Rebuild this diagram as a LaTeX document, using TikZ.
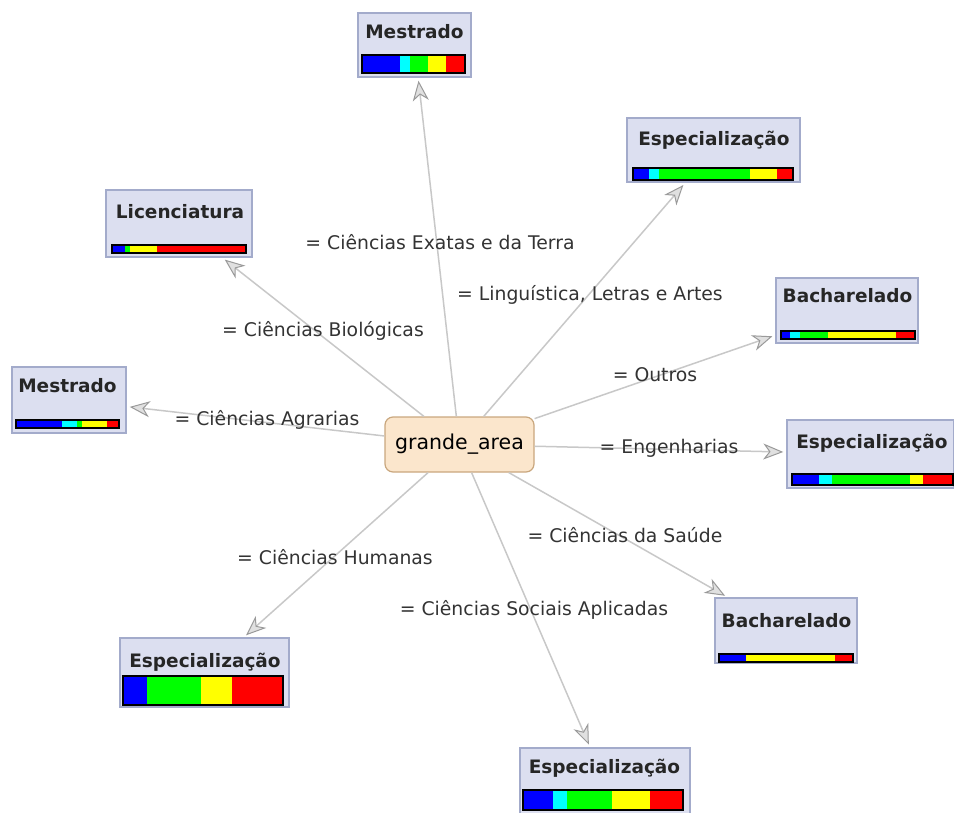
\documentclass[tikz,border=0pt]{standalone}
\usepackage{fontspec}
\setmainfont{DejaVu Sans}
\usetikzlibrary{arrows.meta}
\definecolor{boxfill}{HTML}{DCDFF0}
\definecolor{boxline}{HTML}{A3ABCB}
\definecolor{rootfill}{HTML}{FBE6CC}
\definecolor{rootline}{HTML}{C9A77E}
\definecolor{edgegray}{HTML}{C8C8C8}
\definecolor{tipgray}{HTML}{9A9A9A}
\definecolor{cblue}{HTML}{0000FF}
\definecolor{ccyan}{HTML}{00FFFF}
\definecolor{cgreen}{HTML}{00FF00}
\definecolor{cyellow}{HTML}{FFFF00}
\definecolor{cred}{HTML}{FF0000}
\newcommand{\drawbar}[5]{%
  \foreach \c/\a/\b in {#5} {\fill[\c] (\a,#2) rectangle (\b,#4);}
  \draw[line width=1.5pt] (#1,#2) rectangle (#3,#4);
}
\tikzset{
  leaf/.style={draw=boxline, fill=boxfill, line width=1.5pt, inner sep=0pt},
  ttl/.style={anchor=base, font=\bfseries\fontsize{18.5}{20}\selectfont, text=black!85},
  lbl/.style={font=\fontsize{18.8}{21}\selectfont, text=black!80},
  root/.style={draw=rootline, fill=rootfill, rounded corners=8pt, line width=1.2pt,
    minimum width=149pt, minimum height=55pt, font=\fontsize{20.5}{23}\selectfont},
  link/.style={draw=edgegray, line width=1.5pt, shorten >=3pt,
    -{Stealth[length=20pt, width=16pt, inset=6pt, fill=black!12, color=tipgray, line width=1pt]}}
}
\begin{document}
\begin{tikzpicture}[x=1pt, y=-1pt]
\useasboundingbox (0,0) rectangle (954,812);
\node[root] (ga) at (459.5,444.5) {grande\_area};
\node[leaf, minimum width=113pt, minimum height=64pt] (m1) at (414.5,45) {};
\node[leaf, minimum width=173pt, minimum height=64pt] (e1) at (713.5,150) {};
\node[leaf, minimum width=146pt, minimum height=67pt] (lc) at (179,223.5) {};
\node[leaf, minimum width=114pt, minimum height=66pt] (m2) at (69,400) {};
\node[leaf, minimum width=142pt, minimum height=65pt] (b1) at (847,310.5) {};
\node[leaf, minimum width=167pt, minimum height=68pt] (e2) at (870.5,454) {};
\node[leaf, minimum width=142pt, minimum height=65pt] (b2) at (786,630.5) {};
\node[leaf, minimum width=169pt, minimum height=69pt] (e3) at (204.5,672.5) {};
\node[leaf, minimum width=170pt, minimum height=68pt] (e4) at (605,782) {};
\node[ttl] (t1) at (414.5,38) {Mestrado};
\node[ttl] (t2) at (714,145) {Especialização};
\node[ttl] (t3) at (180,218) {Licenciatura};
\node[ttl] (t4) at (67.5,392) {Mestrado};
\node[ttl] (t5) at (847.5,302) {Bacharelado};
\node[ttl] (t6) at (872,448) {Especialização};
\node[ttl] (t7) at (786.5,627) {Bacharelado};
\node[ttl] (t8) at (205,667) {Especialização};
\node[ttl] (t9) at (604.5,773) {Especialização};
\drawbar{362}{55}{465}{73}{cblue/362/400, ccyan/400/410, cgreen/410/428, cyellow/428/446, cred/446/465}
\drawbar{633}{168}{793}{180}{cblue/633/649, ccyan/649/659, cgreen/659/750, cyellow/750/777, cred/777/793}
\drawbar{112}{245}{246}{253}{cblue/112/125, cgreen/125/130, cyellow/130/157, cred/157/246}
\drawbar{16}{420}{119}{428}{cblue/16/62, ccyan/62/77, cgreen/77/82, cyellow/82/107, cred/107/119}
\drawbar{781}{331}{915}{339}{cblue/781/790, ccyan/790/800, cgreen/800/828, cyellow/828/896, cred/896/915}
\drawbar{792}{474}{953}{485}{cblue/792/819, ccyan/819/832, cgreen/832/910, cyellow/910/923, cred/923/953}
\drawbar{719}{654}{853}{662}{cblue/719/746, cyellow/746/835, cred/835/853}
\drawbar{123}{676}{283}{705}{cblue/123/147, cgreen/147/201, cyellow/201/232, cred/232/283}
\drawbar{523}{790}{683}{810}{cblue/523/553, ccyan/553/567, cgreen/567/612, cyellow/612/650, cred/650/683}
\draw[link] (ga) -- (m1);
\draw[link] (ga) -- (e1);
\draw[link] (ga) -- (lc);
\draw[link] (ga) -- (m2);
\draw[link] (ga) -- (b1);
\draw[link] (ga) -- (e2);
\draw[link] (ga) -- (b2);
\draw[link] (ga) -- (e3);
\draw[link] (ga) -- (e4);
\node[lbl] (l1) at (440,242) {= Ciências Exatas e da Terra};
\node[lbl] (l2) at (590,295) {= Linguística, Letras e Artes};
\node[lbl] (l3) at (323,331) {= Ciências Biológicas};
\node[lbl] (l4) at (655,375) {= Outros};
\node[lbl] (l5) at (267,420) {= Ciências Agrarias};
\node[lbl] (l6) at (669,448) {= Engenharias};
\node[lbl] (l7) at (625,535) {= Ciências da Saúde};
\node[lbl] (l8) at (335,557) {= Ciências Humanas};
\node[lbl] (l9) at (534,610) {= Ciências Sociais Aplicadas};
\end{tikzpicture}
\end{document}
